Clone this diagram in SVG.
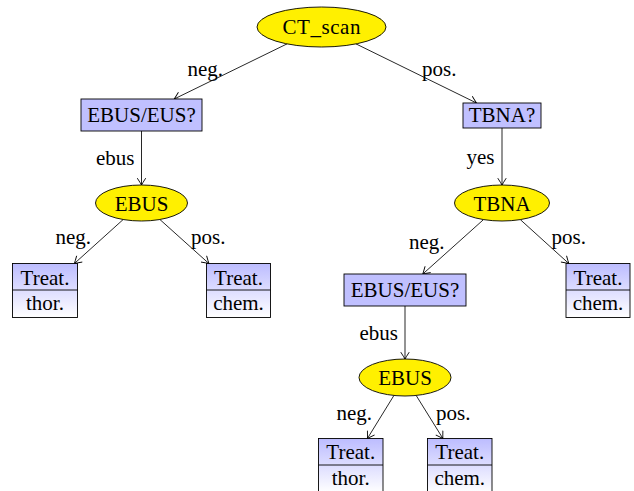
<svg xmlns="http://www.w3.org/2000/svg" width="634" height="491" viewBox="0 0 634 491">
  <defs>
    <linearGradient id="leafGrad" x1="0" y1="0" x2="0" y2="1">
      <stop offset="0" stop-color="#bcbcff"/>
      <stop offset="1" stop-color="#ffffff"/>
    </linearGradient>
    <marker id="arr" markerUnits="userSpaceOnUse" markerWidth="14" markerHeight="14" viewBox="-9 -7 11 14" refX="0" refY="0" orient="auto">
      <path d="M -6.5,-4 Q -2,-1.1 0,0 Q -2,1.1 -6.5,4" fill="none" stroke="#000" stroke-width="0.9" stroke-linecap="round"/>
    </marker>
  </defs>
  <style>
    .ell { fill: #fff000; stroke: #000; stroke-width: 0.9; }
    .box { fill: #c0c0ff; stroke: #000; stroke-width: 0.9; }
    .leaf { fill: url(#leafGrad); stroke: #000; stroke-width: 0.9; }
    .div { stroke: #000; stroke-width: 0.9; }
    .edge { fill: none; stroke: #000; stroke-width: 0.85; marker-end: url(#arr); }
  </style>

  <g id="connectors">
    <line class="edge" x1="287" y1="43.9" x2="174.2" y2="99"/>
    <line class="edge" x1="356" y1="43.9" x2="476.5" y2="103"/>
    <line class="edge" x1="141.5" y1="131" x2="141.5" y2="185"/>
    <line class="edge" x1="502" y1="128" x2="502" y2="185"/>
    <line class="edge" x1="123.2" y1="219.5" x2="74.4" y2="263.5"/>
    <line class="edge" x1="159.9" y1="219.5" x2="208.9" y2="263.5"/>
    <line class="edge" x1="520.3" y1="219.6" x2="568.8" y2="263.5"/>
    <line class="edge" x1="483.5" y1="219.6" x2="422.8" y2="274"/>
    <line class="edge" x1="405" y1="306" x2="405" y2="359"/>
    <line class="edge" x1="393.9" y1="395.5" x2="367.4" y2="438.5"/>
    <line class="edge" x1="416.2" y1="395.5" x2="442.9" y2="438.5"/>
    <text font-family="Liberation Serif" font-size="21" text-anchor="end" x="223" y="76">neg.</text>
    <text font-family="Liberation Serif" font-size="21" text-anchor="start" x="422" y="76">pos.</text>
    <text font-family="Liberation Serif" font-size="21" text-anchor="end" x="134.5" y="165">ebus</text>
    <text font-family="Liberation Serif" font-size="21" text-anchor="end" x="494.5" y="164">yes</text>
    <text font-family="Liberation Serif" font-size="21" text-anchor="end" x="91" y="244">neg.</text>
    <text font-family="Liberation Serif" font-size="21" text-anchor="start" x="191" y="244">pos.</text>
    <text font-family="Liberation Serif" font-size="21" text-anchor="end" x="444.5" y="249">neg.</text>
    <text font-family="Liberation Serif" font-size="21" text-anchor="start" x="551.5" y="244">pos.</text>
    <text font-family="Liberation Serif" font-size="21" text-anchor="end" x="398" y="339.5">ebus</text>
    <text font-family="Liberation Serif" font-size="21" text-anchor="end" x="372" y="420">neg.</text>
    <text font-family="Liberation Serif" font-size="21" text-anchor="start" x="436" y="420">pos.</text>
  </g>

  <g id="ct_scan">
    <ellipse class="ell" cx="321.5" cy="27" rx="64.5" ry="20"/>
    <text font-family="Liberation Serif" font-size="21" text-anchor="middle" x="321.5" y="34" textLength="78" lengthAdjust="spacing">CT_scan</text>
  </g>
  <g id="ebus_eus_1">
    <rect class="box" x="81" y="99" width="121" height="32"/>
    <text font-family="Liberation Serif" font-size="21" text-anchor="middle" x="141.5" y="121.5">EBUS/EUS?</text>
  </g>
  <g id="tbna_q">
    <rect class="box" x="463" y="103" width="78" height="25"/>
    <text font-family="Liberation Serif" font-size="21" text-anchor="middle" x="502" y="122">TBNA?</text>
  </g>
  <g id="ebus_1">
    <ellipse class="ell" cx="141.5" cy="203" rx="46" ry="18"/>
    <text font-family="Liberation Serif" font-size="21" text-anchor="middle" x="141.5" y="210.5">EBUS</text>
  </g>
  <g id="tbna">
    <ellipse class="ell" cx="502" cy="203" rx="47.5" ry="18"/>
    <text font-family="Liberation Serif" font-size="21" text-anchor="middle" x="502" y="210.5">TBNA</text>
  </g>
  <g id="leaf_thor_1">
    <rect class="leaf" x="12.5" y="263.5" width="65" height="54"/>
    <line class="div" x1="12.5" y1="290" x2="77.5" y2="290"/>
    <text font-family="Liberation Serif" font-size="21" text-anchor="middle" x="45" y="284.5">Treat.</text>
    <text font-family="Liberation Serif" font-size="21" text-anchor="middle" x="45" y="310">thor.</text>
  </g>
  <g id="leaf_chem_1">
    <rect class="leaf" x="206.5" y="263.5" width="64" height="54"/>
    <line class="div" x1="206.5" y1="290" x2="270.5" y2="290"/>
    <text font-family="Liberation Serif" font-size="21" text-anchor="middle" x="238.5" y="284.5">Treat.</text>
    <text font-family="Liberation Serif" font-size="21" text-anchor="middle" x="238.5" y="310">chem.</text>
  </g>
  <g id="leaf_chem_2">
    <rect class="leaf" x="566" y="263.5" width="64" height="54"/>
    <line class="div" x1="566" y1="290" x2="630" y2="290"/>
    <text font-family="Liberation Serif" font-size="21" text-anchor="middle" x="598" y="284.5">Treat.</text>
    <text font-family="Liberation Serif" font-size="21" text-anchor="middle" x="598" y="310">chem.</text>
  </g>
  <g id="ebus_eus_2">
    <rect class="box" x="344" y="274" width="122" height="32"/>
    <text font-family="Liberation Serif" font-size="21" text-anchor="middle" x="405" y="296.5">EBUS/EUS?</text>
  </g>
  <g id="ebus_2">
    <ellipse class="ell" cx="405" cy="377.5" rx="46" ry="18.5"/>
    <text font-family="Liberation Serif" font-size="21" text-anchor="middle" x="405" y="384.5">EBUS</text>
  </g>
  <g id="leaf_thor_2">
    <rect class="leaf" x="318.5" y="438.5" width="64.5" height="54"/>
    <line class="div" x1="318.5" y1="465" x2="383" y2="465"/>
    <text font-family="Liberation Serif" font-size="21" text-anchor="middle" x="350.75" y="459">Treat.</text>
    <text font-family="Liberation Serif" font-size="21" text-anchor="middle" x="350.75" y="485">thor.</text>
  </g>
  <g id="leaf_chem_3">
    <rect class="leaf" x="427.5" y="438.5" width="64.5" height="54"/>
    <line class="div" x1="427.5" y1="465" x2="492" y2="465"/>
    <text font-family="Liberation Serif" font-size="21" text-anchor="middle" x="459.75" y="459">Treat.</text>
    <text font-family="Liberation Serif" font-size="21" text-anchor="middle" x="459.75" y="485">chem.</text>
  </g>
</svg>
